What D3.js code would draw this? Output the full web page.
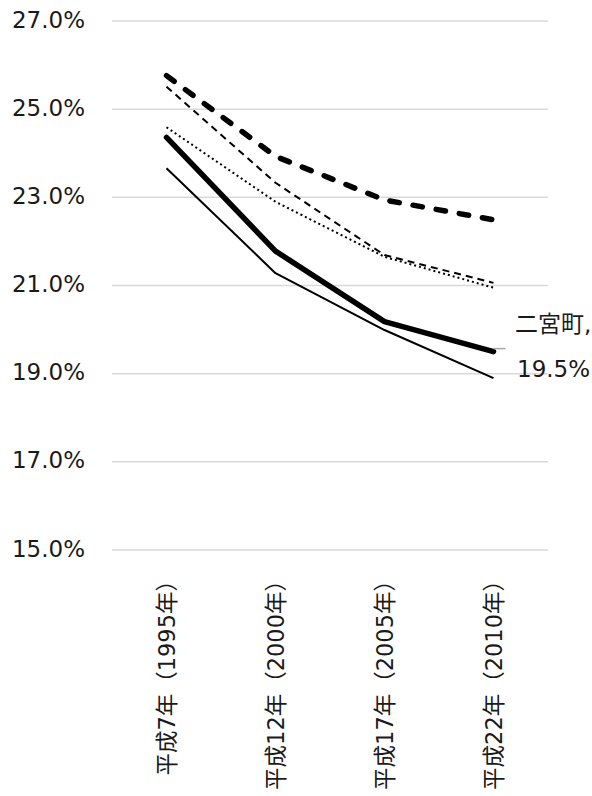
<!DOCTYPE html>
<html>
<head>
<meta charset="utf-8">
<script src="https://cdn.jsdelivr.net/npm/d3@7"></script>
<style>
  html, body { margin: 0; padding: 0; background: #fff; }
  svg { display: block; }
  text { font-family: "DejaVu Sans", "Noto Sans CJK JP", sans-serif; fill: #1a1a1a; }
</style>
</head>
<body>
<svg id="chart" width="592" height="796"></svg>
<script>
// Census years (x axis categories)
const categories = ["平成7年（1995年）", "平成12年（2000年）", "平成17年（2005年）", "平成22年（2010年）"];

// Share values per area, one array per line
const seriesThickDash = [0.2576, 0.2393, 0.2294, 0.2249];
const seriesThinDash  = [0.2551, 0.2333, 0.2169, 0.2106];
const seriesDotted    = [0.2459, 0.2290, 0.2165, 0.2095];
const seriesNinomiya  = [0.2436, 0.2178, 0.2018, 0.1950];
const seriesThinSolid = [0.2366, 0.2128, 0.1999, 0.1890];

// Y axis tick values
const yTicks = [0.15, 0.17, 0.19, 0.21, 0.23, 0.25, 0.27];

const svg = d3.select("#chart");

const x = d3.scaleBand().domain(categories).range([112, 548]).padding(0);
const y = d3.scaleLinear().domain([0.15, 0.27]).range([550, 21]);
const cx = c => x(c) + x.bandwidth() / 2;

// Horizontal gridlines
svg.append("g")
  .selectAll("line")
  .data(yTicks)
  .join("line")
  .attr("x1", 112).attr("x2", 548)
  .attr("y1", d => y(d)).attr("y2", d => y(d))
  .attr("stroke", "#d9d9d9").attr("stroke-width", 1.5);

// Y axis labels
const fmt = d3.format(".1%");
svg.append("g")
  .selectAll("text")
  .data(yTicks)
  .join("text")
  .attr("x", 85)
  .attr("y", d => y(d) + 6.5)
  .attr("text-anchor", "end")
  .style("font-size", "23px")
  .text(d => fmt(d));

// Category labels, rotated
svg.append("g")
  .selectAll("text")
  .data(categories)
  .join("text")
  .attr("transform", d => `translate(${cx(d)},569) rotate(-90)`)
  .attr("text-anchor", "end")
  .attr("dy", "0.36em")
  .style("font-size", "22.5px")
  .text(d => d);

// Lines
const line = d3.line()
  .x((d, i) => cx(categories[i]))
  .y(d => y(d));

const styles = [
  { data: seriesThinSolid, width: 2,   dash: null,     cap: "butt" },
  { data: seriesDotted,    width: 2,   dash: "2,3",    cap: "butt" },
  { data: seriesThinDash,  width: 2,   dash: "7,5",    cap: "butt" },
  { data: seriesThickDash, width: 5.5, dash: "9.5,14", cap: "round" },
  { data: seriesNinomiya,  width: 5.5, dash: null,     cap: "round" }
];

svg.append("g")
  .selectAll("path")
  .data(styles)
  .join("path")
  .attr("d", s => line(s.data))
  .attr("fill", "none")
  .attr("stroke", "#000")
  .attr("stroke-width", s => s.width)
  .attr("stroke-dasharray", s => s.dash)
  .attr("stroke-linecap", s => s.cap)
  .attr("stroke-linejoin", "round");

// Data label for the last point of 二宮町
const lastCat = categories[categories.length - 1];
const lastVal = seriesNinomiya[seriesNinomiya.length - 1];
svg.append("line")
  .attr("x1", cx(lastCat)).attr("x2", cx(lastCat) + 12)
  .attr("y1", y(lastVal) - 3).attr("y2", y(lastVal) - 3)
  .attr("stroke", "#a6a6a6").attr("stroke-width", 1.5);

svg.append("text")
  .attr("x", 515).attr("y", 332)
  .style("font-size", "23px")
  .text("二宮町,");
svg.append("text")
  .attr("x", 517).attr("y", 377)
  .style("font-size", "23px")
  .text(fmt(lastVal));
</script>
</body>
</html>
